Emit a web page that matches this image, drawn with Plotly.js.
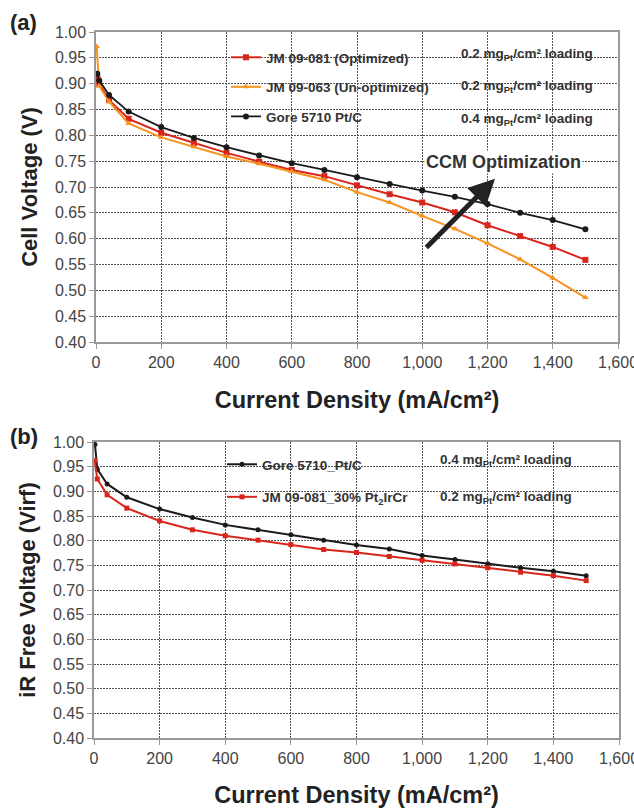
<!DOCTYPE html>
<html>
<head>
<meta charset="utf-8">
<script src="https://cdn.plot.ly/plotly-3.0.1.min.js"></script>
<style>html,body{margin:0;padding:0;background:#fff;}#chart{width:634px;height:808px;}</style>
</head>
<body>
<div id="chart"></div>
<script>
// ---- Panel (a) data ----
const xA_gore = [4, 10, 40, 100, 200, 300, 400, 500, 600, 700, 800, 900, 1000, 1100, 1200, 1300, 1400, 1500];
const yA_gore = [0.919, 0.906, 0.878, 0.846, 0.816, 0.795, 0.777, 0.761, 0.746, 0.733, 0.719, 0.706, 0.693, 0.681, 0.667, 0.650, 0.636, 0.618];
const xA_opt = [5, 10, 40, 100, 200, 300, 400, 500, 600, 700, 800, 900, 1000, 1100, 1200, 1300, 1400, 1500];
const yA_opt = [0.910, 0.900, 0.868, 0.832, 0.805, 0.785, 0.766, 0.749, 0.733, 0.721, 0.703, 0.686, 0.670, 0.651, 0.626, 0.605, 0.584, 0.559];
const xA_unopt = [2, 10, 40, 100, 200, 300, 400, 500, 600, 700, 800, 900, 1000, 1100, 1200, 1300, 1400, 1500];
const yA_unopt = [0.972, 0.895, 0.865, 0.823, 0.796, 0.778, 0.759, 0.745, 0.730, 0.714, 0.690, 0.670, 0.644, 0.619, 0.591, 0.560, 0.524, 0.486];

// ---- Panel (b) data ----
const xB_gore = [3, 10, 40, 100, 200, 300, 400, 500, 600, 700, 800, 900, 1000, 1100, 1200, 1300, 1400, 1500];
const yB_gore = [0.995, 0.945, 0.915, 0.888, 0.864, 0.847, 0.832, 0.822, 0.812, 0.801, 0.791, 0.783, 0.770, 0.762, 0.753, 0.745, 0.738, 0.729];
const xB_jm = [2, 10, 40, 100, 200, 300, 400, 500, 600, 700, 800, 900, 1000, 1100, 1200, 1300, 1400, 1500];
const yB_jm = [0.962, 0.925, 0.893, 0.866, 0.840, 0.822, 0.810, 0.801, 0.792, 0.782, 0.776, 0.768, 0.760, 0.753, 0.745, 0.736, 0.729, 0.719];

// ---- labels ----
const namesA = ["JM 09-081 (Optimized)", "JM 09-063 (Un-optimized)", "Gore 5710 Pt/C"];
const loadingsA = ["0.2 mg<sub>Pt</sub>/cm² loading", "0.2 mg<sub>Pt</sub>/cm² loading", "0.4 mg<sub>Pt</sub>/cm² loading"];
const namesB = ["Gore 5710_Pt/C", "JM 09-081_30% Pt<sub>2</sub>IrCr"];
const loadingsB = ["0.4 mg<sub>Pt</sub>/cm² loading", "0.2 mg<sub>Pt</sub>/cm² loading"];
const yTicks = [0.40, 0.45, 0.50, 0.55, 0.60, 0.65, 0.70, 0.75, 0.80, 0.85, 0.90, 0.95, 1.00];
const xTicks = [0, 200, 400, 600, 800, 1000, 1200, 1400, 1600];

const RED = "#d9261c", ORANGE = "#f7931e", BLACK = "#1a1a1a";
const FONT = "Liberation Sans, Arial, sans-serif";

const traces = [
  {x: xA_opt, y: yA_opt, name: namesA[0], xaxis: "x", yaxis: "y", mode: "lines+markers", legend: "legend", legendgroup: "a1",
   line: {color: RED, width: 2}, marker: {symbol: "square", size: 6, color: RED}},
  {x: xA_unopt, y: yA_unopt, name: namesA[1], xaxis: "x", yaxis: "y", mode: "lines+markers", legend: "legend", legendgroup: "a2",
   line: {color: ORANGE, width: 2}, marker: {symbol: "triangle-up", size: 6, color: ORANGE}},
  {x: xA_gore, y: yA_gore, name: namesA[2], xaxis: "x", yaxis: "y", mode: "lines+markers", legend: "legend", legendgroup: "a3",
   line: {color: BLACK, width: 1.8}, marker: {symbol: "circle", size: 6, color: BLACK}},
  {x: xB_gore, y: yB_gore, name: namesB[0], xaxis: "x2", yaxis: "y2", mode: "lines+markers", legend: "legend2", legendgroup: "b1",
   line: {color: BLACK, width: 2}, marker: {symbol: "circle", size: 5, color: BLACK}},
  {x: xB_jm, y: yB_jm, name: namesB[1], xaxis: "x2", yaxis: "y2", mode: "lines+markers", legend: "legend2", legendgroup: "b2",
   line: {color: RED, width: 2}, marker: {symbol: "square", size: 5, color: RED}}
];

function xax(domain, anchor) {
  return {domain: domain, anchor: anchor, range: [0, 1600], tickvals: xTicks, tickformat: ",d",
    showgrid: true, gridcolor: "#555", griddash: "2px,1px", gridwidth: 1,
    showline: true, mirror: true, linecolor: "#999", linewidth: 1.5,
    ticks: "outside", ticklen: 5, tickcolor: "#999", zeroline: false, ticklabeloverflow: "allow",
    tickfont: {family: FONT, size: 16, color: "#444"},
    title: {text: "Current Density (mA/cm²)", font: {family: FONT, size: 23.5, color: "#222", weight: "bold"}, standoff: 22}};
}
function yax(domain, anchor, title) {
  return {domain: domain, anchor: anchor, range: [0.40, 1.00], tickvals: yTicks, tickformat: ".2f",
    showgrid: true, gridcolor: "#555", griddash: "2px,1px", gridwidth: 1,
    showline: true, mirror: true, linecolor: "#999", linewidth: 1.5,
    ticks: "outside", ticklen: 5, tickcolor: "#999", zeroline: false,
    tickfont: {family: FONT, size: 16, color: "#444"},
    title: {text: title, font: {family: FONT, size: 22, color: "#222", weight: "bold"}, standoff: 11}};
}

const lgFont = {family: FONT, size: 13.5, color: "#333", weight: "bold"};
const annFont = {family: FONT, size: 13.5, color: "#333", weight: "bold"};

const annotations = [
  {text: "(a)", xref: "paper", yref: "paper", x: 8/634, y: 1 - 22/808, xanchor: "left", yanchor: "middle", showarrow: false,
   font: {family: FONT, size: 22, color: "#222", weight: "bold"}},
  {text: "(b)", xref: "paper", yref: "paper", x: 8/634, y: 1 - 436/808, xanchor: "left", yanchor: "middle", showarrow: false,
   font: {family: FONT, size: 22, color: "#222", weight: "bold"}},
  {text: "", xref: "x", yref: "y", x: 1223, y: 0.716, axref: "x", ayref: "y", ax: 1008, ay: 0.58,
   showarrow: true, arrowhead: 2, arrowsize: 1.05, arrowwidth: 5, arrowcolor: "#222"},
  {text: "CCM Optimization", xref: "x", yref: "y", x: 1248, y: 0.749, showarrow: false, bgcolor: "#fff",
   font: {family: FONT, size: 18, color: "#333", weight: "bold"}}
];
const rowsA = [54, 87, 119];
loadingsA.forEach((t, i) => annotations.push({text: t, xref: "paper", yref: "paper", x: 459/634, y: 1 - rowsA[i]/808,
  xanchor: "left", yanchor: "middle", showarrow: false, font: annFont}));
const rowsB = [461, 497];
loadingsB.forEach((t, i) => annotations.push({text: t, xref: "paper", yref: "paper", x: 438/634, y: 1 - rowsB[i]/808,
  xanchor: "left", yanchor: "middle", showarrow: false, font: annFont}));

const layout = {
  width: 634, height: 808,
  margin: {l: 0, r: 0, t: 0, b: 0},
  paper_bgcolor: "#fff", plot_bgcolor: "#fff",
  font: {family: FONT},
  xaxis: xax([96/634, 618/634], "y"),
  yaxis: yax([1 - 342/808, 1 - 32/808], "x", "Cell Voltage (V)"),
  xaxis2: xax([94/634, 619/634], "y2"),
  yaxis2: yax([1 - 738/808, 1 - 442/808], "x2", "iR Free Voltage (Virf)"),
  legend: {x: 226/634, y: 1 - 42/808, xanchor: "left", yanchor: "top", bgcolor: "rgba(0,0,0,0)", borderwidth: 0,
    traceorder: "grouped", tracegroupgap: 9, itemwidth: 30, font: lgFont},
  legend2: {x: 222/634, y: 1 - 449/808, xanchor: "left", yanchor: "top", bgcolor: "rgba(0,0,0,0)", borderwidth: 0,
    traceorder: "grouped", tracegroupgap: 12, itemwidth: 30, font: lgFont},
  shapes: [
    {type: "rect", xref: "x", yref: "y", x0: 441, x1: 1563, y0: 0.806, y1: 0.992, fillcolor: "#fff", line: {width: 0}, layer: "below"},
    {type: "rect", xref: "x2", yref: "y2", x0: 445, x1: 1475, y0: 0.848, y1: 0.99, fillcolor: "#fff", line: {width: 0}, layer: "below"}
  ],
  annotations: annotations,
  showlegend: true
};

Plotly.newPlot("chart", traces, layout, {displayModeBar: false, responsive: false});
</script>
</body>
</html>
